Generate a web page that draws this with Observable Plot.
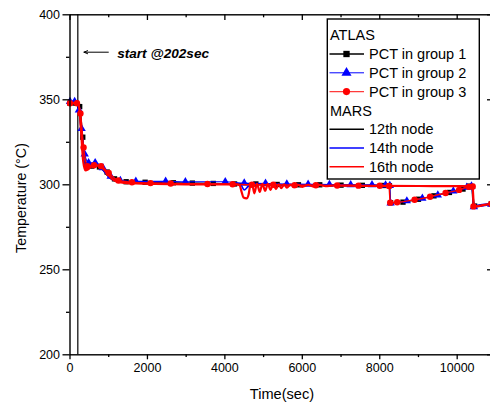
<!DOCTYPE html>
<html><head><meta charset="utf-8">
<script src="https://cdn.jsdelivr.net/npm/d3@7"></script>
<script src="https://cdn.jsdelivr.net/npm/@observablehq/plot@0.6"></script>
<style>body{margin:0;background:#fff} #chart{width:490px;height:403px;overflow:hidden}</style>
</head><body><div id="chart"></div>
<script>
// ATLAS measurements (markers)
const g1Time = [0,150,250,330,420,560,760,960,1150,1450,1940,2670,3160,3700,4250,4800,5350,5900,6450,7000,7550,8100,8250,8280,8600,9000,9400,9800,10150,10300,10380,10450,10880];
const g1Temp = [348,348,346,328,312,311,310.5,307.5,303.5,301.8,301.5,301.2,301,300.8,300.5,300.5,300.2,300,300,299.8,299.7,299.6,299.5,289.5,289.8,291.5,293.5,295.5,297.5,299.2,299,287.5,288.8];
const g2Time = [0,120,230,300,380,480,650,850,1050,1300,1700,2470,2980,4010,4500,5050,5600,6150,6700,7250,7800,8150,8260,8280,8700,9100,9500,9900,10250,10370,10430,10880];
const g2Temp = [349,349,344,333,318,313,313,310,305,302.5,302,302,301.8,301.8,301,300.8,300.5,300.3,300.2,300,300,299.8,299.6,289.3,290.5,292,294,296.3,298.5,299.3,287,288.5];
const g3Time = [0,180,270,350,450,620,800,1000,1250,1600,2080,2600,3550,4200,4700,5250,5800,6350,6900,7450,8000,8240,8270,8450,8900,9300,9700,10050,10300,10400,10420,10880];
const g3Temp = [348,348,342,322,311,311.5,311,307,302.5,301.5,301,300.8,300.5,300.3,300,300,299.8,299.7,299.6,299.5,299.4,299.3,289.5,289.7,291.2,293,295.2,297,298.8,299,287.3,288.8];
// MARS calculations (lines)
const n12Time = [0,202,260,320,380,440,520,650,800,950,1100,1300,1600,2000,3000,4000,5000,6000,7000,8000,9000,10000,10380,10420,10600,10880];
const n12Temp = [348.5,348.5,340,322,311,309.5,310.5,311.5,310,306,303,301.8,301.3,301,300.6,300.4,300.1,299.8,299.6,299.4,299.3,299.2,299.1,287.3,288,288.8];
const n14Time = [0,202,250,310,370,430,500,640,780,930,1080,1280,1600,2000,3000,4000,4400,4500,4600,4700,5000,6000,7000,8000,9000,10000,10390,10430,10600,10880];
const n14Temp = [349,349,342,325,312,309,310,311.8,310.5,306.5,303.2,302,301.4,301,300.7,300.5,300.3,297,299,300.5,300.2,299.9,299.6,299.4,299.3,299.2,299.1,287.5,288.2,288.8];
const n16Time = [0,202,240,290,340,400,460,540,650,760,880,1000,1150,1350,1700,2200,3000,3800,4300,4380,4430,4480,4560,4610,4650,4700,4760,4830,4900,4970,5040,5110,5180,5250,5320,5390,5460,5530,5600,5700,5800,5900,6000,6150,6300,6450,6600,6800,7200,8000,9000,10000,10400,10430,10550,10700,10880];
const n16Temp = [348,348,345,330,314,308.5,309,310.5,311.5,311,309,305.5,302.5,301.3,300.8,300.5,300.3,300.2,300.2,299.8,296,292.5,292,294,299,301,295,300.6,295.8,300.5,296.5,300.5,297,300.4,297.5,300.3,298,300.2,298.3,300.1,298.6,300,298.8,300,299,299.9,299.2,299.6,299.5,299.4,299.3,299.2,299.1,287.3,287.5,288.2,288.8];

const xMajorTicks = [0,2000,4000,6000,8000,10000];
const xMinorTicks = [1000,3000,5000,7000,9000];
const yMajorTicks = [200,250,300,350,400];
const yMinorTicks = [225,275,325,375];
const startTime = [202];
const startLabel = "start @202sec";
const startNote = {time: 1218, temp: 377.4};
const startArrow = {fromTime: 990, toTime: 360, temp: 378};
const xTitle = "Time(sec)";
const yTitle = "Temperature (°C)";
const legendItems = [
  {label: "ATLAS", header: true},
  {label: "PCT in group 1", color: "#000000", symbol: "square", width: 1.3},
  {label: "PCT in group 2", color: "#0000ff", symbol: "triangle", width: 1},
  {label: "PCT in group 3", color: "#ff3b3b", symbol: "circle", width: 1.3},
  {label: "MARS", header: true},
  {label: "12th node", color: "#000000", width: 1.5},
  {label: "14th node", color: "#0000ff", width: 1.5},
  {label: "16th node", color: "#ff0000", width: 1.5}
];

const rows = (t, v) => t.map((d, i) => ({t: d, v: v[i]}));
const g1 = rows(g1Time, g1Temp), g2 = rows(g2Time, g2Temp), g3 = rows(g3Time, g3Temp);
const n12 = rows(n12Time, n12Temp), n14 = rows(n14Time, n14Temp), n16 = rows(n16Time, n16Temp);

const FONT = "'Liberation Sans', Arial, Helvetica, sans-serif";
const X0 = 69.5, X1 = 492, Y0 = 354.3, Y1 = 14.3, W = 490, H = 403;
const fw = X1 - X0, fh = Y0 - Y1;

const plot = Plot.plot({
  width: W, height: H,
  marginLeft: X0, marginRight: W - X1, marginTop: Y1, marginBottom: H - Y0,
  x: {domain: [0, 10912], range: [X0, X1]},
  y: {domain: [200, 400], range: [Y0, Y1]},
  style: {fontFamily: FONT, fontSize: "12.5px", background: "white", color: "black"},
  marks: [
    Plot.ruleX(startTime, {stroke: "black", strokeWidth: 1.2}),
    Plot.line(n12, {x: "t", y: "v", stroke: "#000000", strokeWidth: 1.6, curve: "monotone-x"}),
    Plot.line(g1, {x: "t", y: "v", stroke: "#000000", strokeWidth: 1.2, curve: "monotone-x"}),
    Plot.dot(g1, {x: "t", y: "v", symbol: "square", r: 3, fill: "#000000"}),
    Plot.line(n14, {x: "t", y: "v", stroke: "#0000ff", strokeWidth: 1.6, curve: "monotone-x"}),
    Plot.line(g2, {x: "t", y: "v", stroke: "#0000ff", strokeWidth: 1.1, curve: "monotone-x"}),
    Plot.dot(g2, {x: "t", y: "v", symbol: "triangle", r: 3.1, fill: "#0000ff"}),
    Plot.line(g3, {x: "t", y: "v", stroke: "#ff0000", strokeWidth: 1.5, curve: "monotone-x"}),
    Plot.dot(g3, {x: "t", y: "v", symbol: "circle", r: 3.2, fill: "#ff0000"}),
    Plot.line(n16, {x: "t", y: "v", stroke: "#ff0000", strokeWidth: 2.2, curve: "monotone-x"}),
    Plot.frame({stroke: "black", strokeWidth: 1.4}),
    Plot.axisX(xMajorTicks, {anchor: "bottom", tickSize: 5, tickPadding: 3, strokeWidth: 1.3, tickFormat: d => String(d), fontSize: 12.5}),
    Plot.axisX(xMinorTicks, {anchor: "bottom", tickSize: 2.8, strokeWidth: 1.3, tickFormat: () => ""}),
    Plot.axisY(yMajorTicks, {anchor: "left", tickSize: 7, tickPadding: 3, strokeWidth: 1.3, tickFormat: d => String(d), fontSize: 12.5}),
    Plot.axisY(yMinorTicks, {anchor: "left", tickSize: 3.5, strokeWidth: 1.3, tickFormat: () => ""}),
    Plot.tickX(xMajorTicks, {x: d => d, insetBottom: fh - 5.7, stroke: "black", strokeWidth: 1.3}),
    Plot.tickX(xMinorTicks, {x: d => d, insetBottom: fh - 3, stroke: "black", strokeWidth: 1.3}),
    Plot.tickY(yMajorTicks, {y: d => d, insetLeft: fw - 5, stroke: "black", strokeWidth: 1.3}),
    Plot.arrow([startArrow], {x1: "fromTime", x2: "toTime", y1: "temp", y2: "temp", stroke: "black", strokeWidth: 1, headLength: 6, headAngle: 45}),
    Plot.text([startNote], {x: "time", y: "temp", text: () => startLabel, textAnchor: "start", fontWeight: "bold", fontStyle: "italic", fontSize: 13.6, fill: "black"})
  ]
});

const svg = d3.select(plot);
svg.append("text").attr("x", 282).attr("y", 398.5).attr("text-anchor", "middle")
  .attr("font-family", FONT).attr("font-size", 14.6).attr("fill", "black").text(xTitle);
svg.append("text").attr("transform", "translate(25.5,198) rotate(-90)").attr("text-anchor", "middle")
  .attr("font-family", FONT).attr("font-size", 14.3).attr("fill", "black").text(yTitle);

const lg = svg.append("g").attr("font-family", FONT).attr("font-size", 14.5).attr("text-anchor", "start");
lg.append("rect").attr("x", 327.3).attr("y", 19).attr("width", 152).attr("height", 160)
  .attr("fill", "white").attr("stroke", "black").attr("stroke-width", 1.4);
legendItems.forEach((it, i) => {
  const cy = 35.2 + i * 18.8;
  if (it.header) {
    lg.append("text").attr("x", 330).attr("y", cy).attr("dy", "0.36em").attr("text-anchor", "start").attr("fill", "black").text(it.label);
    return;
  }
  lg.append("line").attr("x1", 329.5).attr("x2", 364).attr("y1", cy).attr("y2", cy)
    .attr("stroke", it.color).attr("stroke-width", it.width);
  if (it.symbol) {
    const sym = {square: d3.symbolSquare, triangle: d3.symbolTriangle, circle: d3.symbolCircle}[it.symbol];
    const size = {square: 40, triangle: 44, circle: 40}[it.symbol];
    lg.append("path").attr("transform", `translate(346.5,${cy})`)
      .attr("d", d3.symbol(sym, size)()).attr("fill", it.symbol === "circle" ? "#ff0000" : it.color);
  }
  lg.append("text").attr("x", 369).attr("y", cy).attr("dy", "0.36em").attr("text-anchor", "start").attr("fill", "black").text(it.label);
});

document.getElementById("chart").appendChild(plot);
</script>
</body></html>
